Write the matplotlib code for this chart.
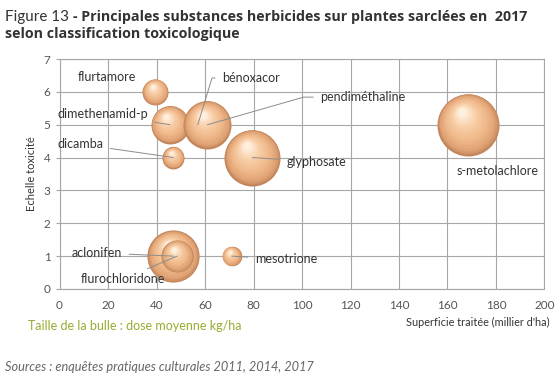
import numpy as np
import matplotlib
matplotlib.use("Agg")
import matplotlib.pyplot as plt
from matplotlib.colors import LinearSegmentedColormap
from matplotlib.transforms import offset_copy

plt.rcParams["font.family"] = ["Lato", "DejaVu Sans"]

# données
substances = ["s-metolachlore", "glyphosate", "aclonifen", "flurochloridone",
              "dimethenamid-p", "bénoxacor", "pendiméthaline", "flurtamore",
              "dicamba", "mesotrione"]
superficie = [168.5, 79.5, 47, 48.5, 45.5, 57, 61, 39.5, 47, 71]
toxicite = [5, 4, 1, 1, 5, 5, 5, 6, 4, 1]
dose = [1.2, 0.98, 0.85, 0.32, 0.45, 0.05, 0.72, 0.21, 0.15, 0.12]

# position des étiquettes (x, y, alignement)
label_pos = {
    "s-metolachlore": (180.5, 3.6, "center"),
    "glyphosate": (93.5, 3.88, "left"),
    "aclonifen": (25.8, 1.1, "right"),
    "flurochloridone": (43.5, 0.3, "right"),
    "dimethenamid-p": (36.5, 5.33, "right"),
    "bénoxacor": (67, 6.42, "left"),
    "pendiméthaline": (107.5, 5.84, "left"),
    "flurtamore": (19.6, 6.45, "center"),
    "dicamba": (18, 4.41, "right"),
    "mesotrione": (80.5, 0.9, "left"),
}
no_leader = {"s-metolachlore", "flurtamore"}
bent = {"bénoxacor": 73, "pendiméthaline": 16}

SIZE_SCALE = 1660
GRID = "#a6a6a6"
TXT = "#333333"
TITLE_BOLD = ["Open Sans", "DejaVu Sans"]

fig = plt.figure(figsize=(5.6, 3.8), dpi=100)
ax = fig.add_axes([0.1063, 0.2395, 0.866, 0.6052])

ax.set_xlim(0, 200)
ax.set_ylim(0, 7)
ax.set_xticks(np.arange(0, 201, 20))
ax.set_yticks(np.arange(0, 8, 1))
ax.grid(True, color=GRID, lw=0.8)
ax.set_axisbelow(True)
for sp in ax.spines.values():
    sp.set_color(GRID)
    sp.set_linewidth(0.8)
ax.tick_params(colors="#555555", labelsize=8.5, length=3, color=GRID)
ax.tick_params(axis="x", length=0, pad=8)

# bulles "3D" : disques superposés vers le reflet
shade = LinearSegmentedColormap.from_list(
    "sphere", [(0, "#c2845a"), (0.12, "#dfa274"), (0.35, "#efb688"),
               (0.7, "#f8cfa8"), (1, "#fff0de")])
for x, y, d in zip(superficie, toxicite, dose):
    diam = np.sqrt(d * SIZE_SCALE)
    r = diam / 2
    for t in np.linspace(0, 1, 36):
        tr = offset_copy(ax.transData, fig=fig, x=-0.2 * t * r, y=0.42 * t * r,
                         units="points")
        ax.scatter([x], [y], s=(diam * (1 - 0.88 * t)) ** 2, color=shade(t),
                   transform=tr, linewidths=0, zorder=3, clip_on=False)

for name, x, y in zip(substances, superficie, toxicite):
    lx, ly, ha = label_pos[name]
    if name in no_leader:
        ax.text(lx, ly, name, ha=ha, va="center", fontsize=9, color=TXT, zorder=6)
        continue
    cs = "arc3"
    if name in bent:
        cs = f"angle,angleA=0,angleB={bent[name]},rad=0"
    ax.annotate(name, xy=(x, y), xytext=(lx, ly), ha=ha, va="center",
                fontsize=9, color=TXT, zorder=6,
                arrowprops=dict(arrowstyle="-", color="#8c8c8c", lw=0.7,
                                shrinkA=3, shrinkB=0, connectionstyle=cs))

ax.set_ylabel("Echelle toxicité", fontsize=8, color=TXT, labelpad=5)
fig.text(550 / 560, 1 - 322 / 380, "Superficie traitée (millier d'ha)",
         ha="right", va="center", fontsize=7.8, color=TXT)

t1 = fig.text(5 / 560, 1 - 21 / 380, "Figure 13", fontsize=11, color=TXT,
              va="baseline")
ax.annotate("- Principales substances herbicides sur plantes sarclées en  2017",
            xy=(1, 0), xycoords=t1, xytext=(3, 0), textcoords="offset points",
            va="bottom", fontsize=10.3, fontweight="bold", color=TXT,
            family=TITLE_BOLD, annotation_clip=False)
fig.text(5 / 560, 1 - 38 / 380, "selon classification toxicologique",
         fontsize=10.3, fontweight="bold", color=TXT, va="baseline",
         family=TITLE_BOLD)

fig.text(28 / 560, 1 - 326 / 380, "Taille de la bulle : dose moyenne kg/ha",
         fontsize=9, color="#9aaa2e", va="center")
fig.text(5 / 560, 1 - 367 / 380,
         "Sources : enquêtes pratiques culturales 2011, 2014, 2017",
         fontsize=9.2, style="italic", color="#666666", va="center")

fig.savefig("out.png", dpi=100)
